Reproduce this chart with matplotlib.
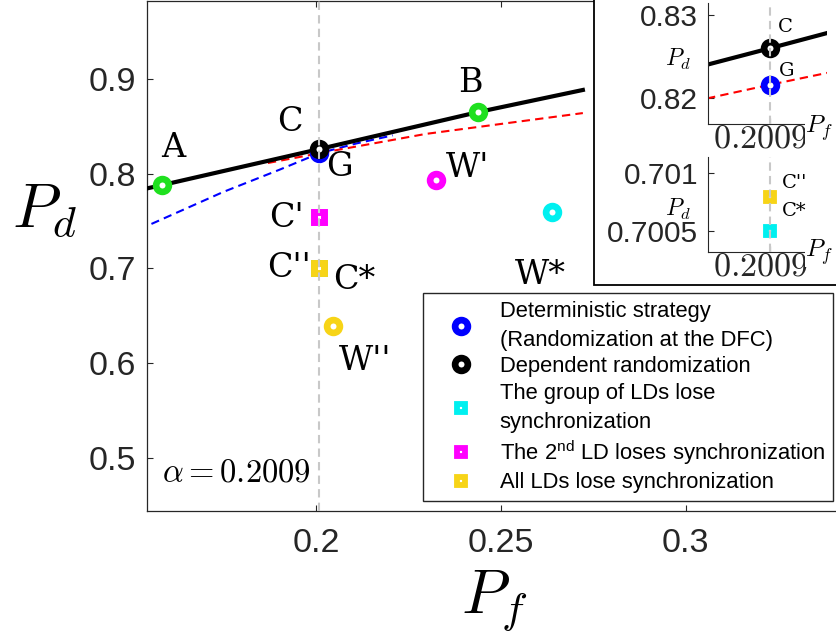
import matplotlib.pyplot as plt
from matplotlib.lines import Line2D
from matplotlib.patches import Rectangle
from matplotlib.transforms import ScaledTranslation

plt.rcParams['font.family'] = ['Liberation Sans', 'DejaVu Sans']
plt.rcParams['mathtext.fontset'] = 'cm'
plt.rcParams['mathtext.rm'] = 'Liberation Sans'
plt.rcParams['mathtext.it'] = 'Liberation Sans:italic'

alpha = 0.2009

# ROC of the dependent randomization (solid black)
dep_pf = [0.1543, 0.1584, 0.2009, 0.2438, 0.2722]
dep_pd = [0.7845, 0.788, 0.826, 0.865, 0.8884]
# red dashed curve
red_pf = [0.187, 0.2009, 0.2297, 0.2722]
red_pd = [0.8113, 0.8216, 0.842, 0.864]
# blue dashed curve
blue_pf = [0.1555, 0.1749, 0.19, 0.2009, 0.211, 0.2208]
blue_pd = [0.747, 0.7807, 0.804, 0.8216, 0.832, 0.8405]

# operating points
names = ['A', 'B', 'G', 'C', "W'", "C'", 'C*', "C''", "W''", 'W*']
pt_pf = [0.1584, 0.2438, 0.2009, 0.2009, 0.2324, 0.2009, 0.2009, 0.2009, 0.2046, 0.2638]
pt_pd = [0.788, 0.865, 0.8216, 0.826, 0.7934, 0.7544, 0.7005, 0.70079, 0.6393, 0.760]

xticks = [0.2, 0.25, 0.3]
xtick_labels = ['0.2', '0.25', '0.3']
yticks = [0.5, 0.6, 0.7, 0.8, 0.9]
ytick_labels = ['0.5', '0.6', '0.7', '0.8', '0.9']

legend_labels = ['Deterministic strategy\n(Randomization at the DFC)',
                 'Dependent randomization',
                 'The group of LDs lose\nsynchronization',
                 r'The 2$^{\rm nd}$ LD loses synchronization',
                 'All LDs lose synchronization']

green = '#1fe01f'
yellow = '#f7d417'
cyan = '#00f0f0'
magenta = '#ff00ff'
# name -> (colour, marker, label offset in pixels)
style = {
    'A': (green, 'o', (11, 37)),
    'B': (green, 'o', (-7, 29)),
    'C': ('black', 'o', (-29, 27)),
    'G': ('blue', 'o', (20, -14)),
    "W'": (magenta, 'o', (32, 12)),
    "C'": (magenta, 's', (-33, -1)),
    'C*': (cyan, 's', (35, -12)),
    "C''": (yellow, 's', (-30, 0)),
    "W''": (yellow, 'o', (32, -35)),
    'W*': (cyan, 'o', (-11, -63)),
}


def mk(color, marker, big=True):
    if marker == 'o':
        return dict(marker='o', ms=9.2, mfc='white', mec=color, mew=4.8, ls='none')
    s = 7.2 if big else 6.4
    return dict(marker='s', ms=s, mfc='white', mec=color, mew=s - 2.2, ls='none')


W, H = 837, 639
fig = plt.figure(figsize=(W / 100, H / 100), dpi=100)


def px_box(l, t, r, b):
    return [l / W, 1 - b / H, (r - l) / W, (b - t) / H]


ax = fig.add_axes(px_box(147, 1, 852, 511))
ax.plot(blue_pf, blue_pd, color='blue', ls=(0, (4, 2.5)), lw=1.5, zorder=2)
ax.plot(red_pf, red_pd, color='red', ls=(0, (4, 2.5)), lw=1.5, zorder=2)
ax.plot(dep_pf, dep_pd, color='black', lw=3, zorder=3)
for n, x, y in zip(names, pt_pf, pt_pd):
    c, m, off = style[n]
    ax.plot([x], [y], zorder=4, **mk(c, m))
    ax.annotate(n, (x, y), xytext=off, textcoords='offset pixels',
                ha='center', va='center', fontsize=24, family='DejaVu Serif')
ax.axvline(alpha, color='#c8c8c8', ls=(0, (4, 2.5)), lw=1.5, zorder=4.5)

ax.set_xlim(0.1543, 0.345)
ax.set_ylim(0.444, 0.9823)
ax.set_xticks(xticks, xtick_labels)
ax.set_yticks(yticks, ytick_labels)
ax.tick_params(direction='in', length=4.5, width=0.8, labelsize=24.5,
               top=True, right=False, colors='#262626')
ax.tick_params(axis='x', pad=12)
ax.tick_params(axis='y', pad=8)
for s in ax.spines.values():
    s.set_color('#262626')
    s.set_linewidth(0.9)
ax.set_xlabel(r'$P_f$', fontsize=45)
ax.xaxis.set_label_coords(0.492, -0.175)
ax.xaxis.label.set_va('center')
ax.set_ylabel(r'$P_d$', fontsize=45, rotation=0, va='center', ha='center')
ax.yaxis.set_label_coords(-0.145, 0.59)
ax.text(0.021, 0.057, r'$\alpha = 0.2009$', transform=ax.transAxes,
        fontsize=23.5, ha='left', va='baseline')

handles = [Line2D([], [], **mk('blue', 'o')),
           Line2D([], [], **mk('black', 'o')),
           Line2D([], [], **mk(cyan, 's', False)),
           Line2D([], [], **mk(magenta, 's', False)),
           Line2D([], [], **mk(yellow, 's', False))]
leg = ax.legend(handles, legend_labels, loc='upper left',
                bbox_to_anchor=(423 / W, 1 - 293 / H), bbox_transform=fig.transFigure,
                borderaxespad=0, fontsize=15.8, fancybox=False, edgecolor='#262626',
                framealpha=1, borderpad=0.35, handlelength=2.8, handletextpad=0.35,
                labelspacing=0.25)
leg.get_frame().set_linewidth(1.0)
leg.set_zorder(6)
for t in leg.get_texts():
    t.set_math_fontfamily('custom')
    t.set_linespacing(1.5)

# white frame holding the two zooms
fig.add_artist(Rectangle((594 / W, 1 - 285 / H), 0.3, 285 / H + 0.05,
                         transform=fig.transFigure, fc='white', ec='black',
                         lw=1.3, zorder=1))

inset_xlim = (0.19871, 0.20291)


def style_inset(a, yt, ytl):
    a.set_xlim(*inset_xlim)
    a.set_xticks([alpha], ['$0.2009$'])
    a.set_yticks(yt, ytl)
    for side in ['top', 'right']:
        a.spines[side].set_visible(False)
    for side in ['left', 'bottom']:
        a.spines[side].set_color('#262626')
    a.tick_params(direction='in', length=4.5, width=0.8, colors='#262626')
    a.tick_params(axis='y', labelsize=21.5, pad=7)
    a.tick_params(axis='x', labelsize=24.5, pad=0)
    shift = ScaledTranslation(-10 / 100, 0, fig.dpi_scale_trans)
    for lbl in a.get_xticklabels():
        lbl.set_transform(lbl.get_transform() + shift)
    a.axvline(alpha, color='#c8c8c8', ls=(0, (4, 2.5)), lw=1.5, zorder=4.5)
    a.patch.set_alpha(0)


ax1 = fig.add_axes(px_box(708, 3, 827, 124), zorder=2)
ax1.plot(red_pf, red_pd, color='red', ls=(0, (4, 2.5)), lw=1.5)
ax1.plot(dep_pf, dep_pd, color='black', lw=3)
for n in ['G', 'C']:
    i = names.index(n)
    ax1.plot([pt_pf[i]], [pt_pd[i]], zorder=4, **mk(style[n][0], 'o'))
ax1.annotate('C', (pt_pf[3], pt_pd[3]), xytext=(8, 21), textcoords='offset pixels',
             ha='left', va='center', fontsize=14, family='DejaVu Serif')
ax1.annotate('G', (pt_pf[2], pt_pd[2]), xytext=(9, 14), textcoords='offset pixels',
             ha='left', va='center', fontsize=14, family='DejaVu Serif')
ax1.set_ylim(0.81687, 0.83145)
style_inset(ax1, [0.82, 0.83], ['0.82', '0.83'])

ax2 = fig.add_axes(px_box(708, 157, 827, 252), zorder=2)
for n in ['C*', "C''"]:
    i = names.index(n)
    ax2.plot([pt_pf[i]], [pt_pd[i]], zorder=4, **mk(style[n][0], 's', False))
ax2.annotate("C''", (pt_pf[7], pt_pd[7]), xytext=(12, 14), textcoords='offset pixels',
             ha='left', va='center', fontsize=14, family='DejaVu Serif')
ax2.annotate('C*', (pt_pf[6], pt_pd[6]), xytext=(12, 20), textcoords='offset pixels',
             ha='left', va='center', fontsize=14, family='DejaVu Serif')
ax2.set_ylim(0.700316, 0.701135)
style_inset(ax2, [0.7005, 0.701], ['0.7005', '0.701'])

for a, ypd, ypf in [(ax1, 0.537, -0.03), (ax2, 0.45, 0.0)]:
    a.set_ylabel(r'$P_d$', fontsize=17, rotation=0, ha='center', va='center')
    a.yaxis.set_label_coords(-0.255, ypd)
    a.text(0.815, ypf, r'$P_f$', transform=a.transAxes, fontsize=18, ha='left',
           va='center', zorder=5, bbox=dict(fc='white', ec='none', pad=0))

fig.savefig('out.png', dpi=100, facecolor='white')
